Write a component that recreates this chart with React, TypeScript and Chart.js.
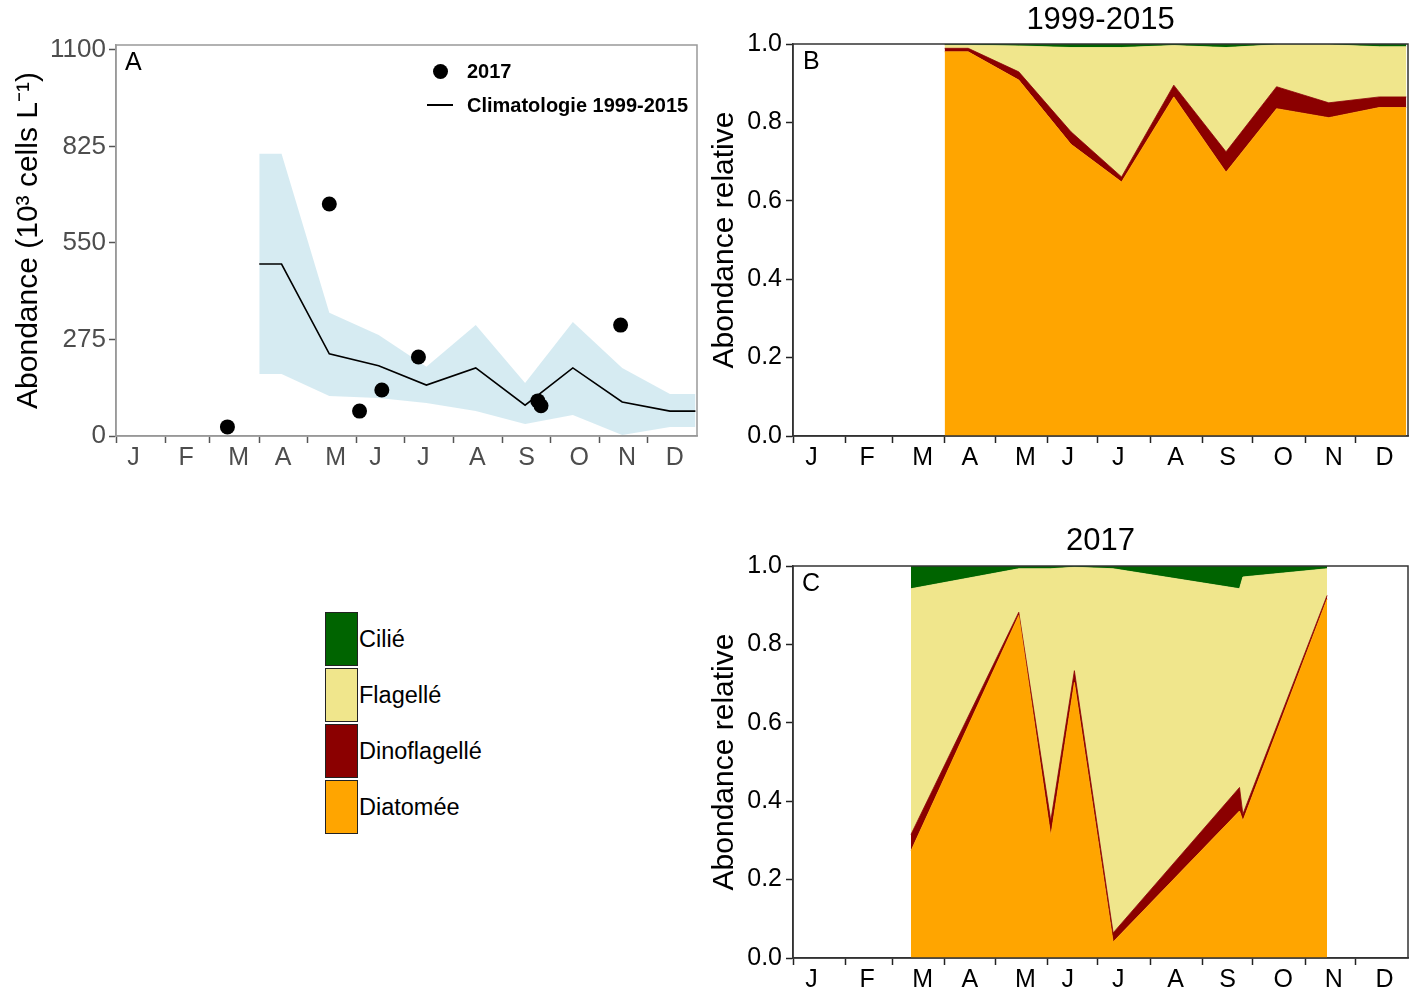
import React, { useEffect, useRef } from 'react';
import { Chart, registerables } from 'chart.js';
Chart.register(...registerables);

const FONT = "'Liberation Sans', Arial, Helvetica, sans-serif";

// x axis: day of year
const monthTickDays = [1, 32, 60, 91, 121, 152, 182, 213, 244, 274, 305, 335];
const monthLabelDays = [12, 45, 78, 106, 139, 164, 194, 228, 259, 292, 322, 352];
const monthLabels = ['J', 'F', 'M', 'A', 'M', 'J', 'J', 'A', 'S', 'O', 'N', 'D'];

// Panel A: climatology 1999-2015 (10^3 cells/L)
const climDays = [91, 105, 135, 166, 196, 227, 258, 288, 319, 349, 365];
const climMean = [490, 490, 234, 200, 145, 194, 88, 194, 97, 71, 71];
const climUpper = [804, 804, 351, 288, 197, 316, 151, 325, 194, 120, 120];
const climLower = [177, 177, 114, 108, 94, 71, 34, 60, 3, 26, 26];

// Panel A: 2017 observations
const obsDays = [71, 135, 154, 168, 191, 266, 268, 318];
const obsAbund = [26, 661, 71, 131, 225, 100, 86, 316];

const abundTicks = [0, 275, 550, 825, 1100];
const relTicks = [0, 0.2, 0.4, 0.6, 0.8, 1.0];

const groupNames = ['Diatomée', 'Dinoflagellé', 'Flagellé', 'Cilié'];
const groupColors = ['#FFA500', '#8B0000', '#F0E68C', '#006400'];

// Panel B: relative abundance 1999-2015 (at climDays)
const climDiatom = [0.980, 0.980, 0.908, 0.744, 0.648, 0.865, 0.673, 0.835, 0.812, 0.838, 0.838];
const climDino = [0.009, 0.009, 0.021, 0.032, 0.013, 0.030, 0.052, 0.056, 0.038, 0.027, 0.027];
const climFlag = [0.008, 0.008, 0.066, 0.215, 0.330, 0.101, 0.266, 0.107, 0.148, 0.128, 0.128];
const climCilie = [0.003, 0.003, 0.005, 0.009, 0.009, 0.004, 0.009, 0.002, 0.002, 0.007, 0.007];

// Panel C: relative abundance 2017 (at obsDays)
const obsDiatom = [0.273, 0.874, 0.311, 0.703, 0.041, 0.375, 0.350, 0.916];
const obsDino = [0.042, 0.008, 0.039, 0.030, 0.023, 0.060, 0.017, 0.009];
const obsFlag = [0.627, 0.111, 0.643, 0.264, 0.929, 0.507, 0.605, 0.068];
const obsCilie = [0.058, 0.007, 0.007, 0.003, 0.007, 0.058, 0.028, 0.007];

const pts = (xs: number[], ys: number[]) => xs.map((x, i) => ({ x, y: ys[i] }));

function monthAxis(labelColor: string, tickColor: string, borderColor: string, height: number) {
  const labelMap = new Map<number, string>(monthLabelDays.map((d, i) => [d, monthLabels[i]]));
  const tickSet = new Set(monthTickDays);
  return {
    type: 'linear',
    min: 1,
    max: 366,
    afterBuildTicks: (axis: any) => {
      axis.ticks = [...monthTickDays, ...monthLabelDays].sort((a, b) => a - b).map((v) => ({ value: v }));
    },
    afterFit: (axis: any) => {
      axis.height = height;
    },
    grid: {
      drawOnChartArea: false,
      drawTicks: true,
      tickLength: 7,
      tickWidth: 1.5,
      tickColor: (ctx: any) => (ctx.tick && tickSet.has(ctx.tick.value) ? tickColor : 'rgba(0,0,0,0)'),
    },
    border: { display: true, color: borderColor, width: 1.5 },
    ticks: {
      autoSkip: false,
      maxRotation: 0,
      minRotation: 0,
      padding: 0,
      color: labelColor,
      font: { family: FONT, size: 25 },
      callback: (v: any) => labelMap.get(Number(v)) ?? '',
    },
  };
}

function boxPlugin(color: string, width: number) {
  return {
    id: 'panelBox',
    afterDraw(chart: any) {
      const { ctx, chartArea } = chart;
      const { left, top, right, bottom } = chartArea;
      ctx.save();
      ctx.strokeStyle = color;
      ctx.lineWidth = width;
      ctx.strokeRect(left, top, right - left, bottom - top);
      ctx.restore();
    },
  };
}

function configA(): any {
  return {
    type: 'line',
    data: {
      datasets: [
        {
          type: 'scatter',
          label: '2017',
          data: pts(obsDays, obsAbund),
          pointRadius: 7.5,
          pointBackgroundColor: '#000',
          pointBorderWidth: 0,
          showLine: false,
          order: 0,
        },
        {
          label: 'Climatologie 1999-2015',
          data: pts(climDays, climMean),
          borderColor: '#000',
          borderWidth: 1.6,
          pointRadius: 0,
          tension: 0,
          fill: false,
          order: 1,
        },
        {
          label: 'upper',
          data: pts(climDays, climUpper),
          borderColor: 'rgba(0,0,0,0)',
          borderWidth: 0,
          pointRadius: 0,
          tension: 0,
          fill: 3,
          backgroundColor: 'rgba(173,216,230,0.5)',
          order: 2,
        },
        {
          label: 'lower',
          data: pts(climDays, climLower),
          borderColor: 'rgba(0,0,0,0)',
          borderWidth: 0,
          pointRadius: 0,
          tension: 0,
          fill: false,
          order: 3,
        },
      ],
    },
    options: {
      responsive: false,
      animation: false,
      devicePixelRatio: 1,
      events: [],
      layout: { padding: { left: 0, right: 13, top: 45, bottom: 0 } },
      plugins: { legend: { display: false }, tooltip: { enabled: false } },
      scales: {
        x: monthAxis('#4D4D4D', '#555555', '#999999', 44),
        y: {
          type: 'linear',
          min: 0,
          max: 1114.2,
          afterBuildTicks: (axis: any) => {
            axis.ticks = abundTicks.map((v) => ({ value: v }));
          },
          afterFit: (axis: any) => {
            axis.width = 116;
          },
          grid: { drawOnChartArea: false, tickLength: 7, tickWidth: 1.5, tickColor: '#555555' },
          border: { display: true, color: '#999999', width: 1.5 },
          ticks: {
            color: '#4D4D4D',
            padding: 3,
            font: { family: FONT, size: 26 },
            callback: (v: any) => String(v),
          },
          title: {
            display: true,
            text: 'Abondance (10³ cells L⁻¹)',
            color: '#000',
            font: { family: FONT, size: 30 },
            padding: { top: 11, bottom: 0 },
          },
        },
      },
    },
    plugins: [boxPlugin('#999999', 1.5)],
  };
}

function configRel(days: number[], series: number[][], xHeight: number): any {
  return {
    type: 'line',
    data: {
      datasets: series.map((vals, i) => ({
        label: groupNames[i],
        data: pts(days, vals),
        borderColor: groupColors[i],
        borderWidth: 0.8,
        backgroundColor: groupColors[i],
        pointRadius: 0,
        tension: 0,
        fill: i === 0 ? 'origin' : '-1',
      })),
    },
    options: {
      responsive: false,
      animation: false,
      devicePixelRatio: 1,
      events: [],
      layout: { padding: { left: 0, right: 14, top: 44, bottom: 0 } },
      plugins: { legend: { display: false }, tooltip: { enabled: false } },
      scales: {
        x: monthAxis('#000', '#222222', '#333333', xHeight),
        y: {
          type: 'linear',
          stacked: true,
          min: 0,
          max: 1,
          afterBuildTicks: (axis: any) => {
            axis.ticks = relTicks.map((v) => ({ value: v }));
          },
          afterFit: (axis: any) => {
            axis.width = 93;
          },
          grid: { drawOnChartArea: false, tickLength: 7, tickWidth: 1.5, tickColor: '#222222' },
          border: { display: true, color: '#333333', width: 1.5 },
          ticks: {
            color: '#000',
            padding: 4,
            font: { family: FONT, size: 25 },
            callback: (v: any) => Number(v).toFixed(1),
          },
          title: {
            display: true,
            text: 'Abondance relative',
            color: '#000',
            font: { family: FONT, size: 30 },
            padding: { top: 7, bottom: 0 },
          },
        },
      },
    },
    plugins: [boxPlugin('#333333', 1.5)],
  };
}

function ChartCanvas(props: { make: () => any; left: number; top: number; width: number; height: number }) {
  const ref = useRef<HTMLCanvasElement | null>(null);
  useEffect(() => {
    const chart = new Chart(ref.current as HTMLCanvasElement, props.make());
    return () => chart.destroy();
  }, []);
  return (
    <canvas
      ref={ref}
      width={props.width}
      height={props.height}
      style={{ position: 'absolute', left: props.left, top: props.top, width: props.width, height: props.height, display: 'block' }}
    />
  );
}

const txt = (s: any): React.CSSProperties => ({
  position: 'absolute',
  fontFamily: FONT,
  lineHeight: 1,
  whiteSpace: 'nowrap',
  color: '#000',
  ...s,
});

export default function App() {
  const legendItems = [
    { name: groupNames[3], color: groupColors[3] },
    { name: groupNames[2], color: groupColors[2] },
    { name: groupNames[1], color: groupColors[1] },
    { name: groupNames[0], color: groupColors[0] },
  ];
  return (
    <div style={{ position: 'absolute', left: 0, top: 0, width: 1422, height: 993, overflow: 'hidden', background: '#fff' }}>
      <ChartCanvas make={configA} left={0} top={0} width={710} height={480} />
      <ChartCanvas
        make={() => configRel(climDays, [climDiatom, climDino, climFlag, climCilie], 44)}
        left={700}
        top={0}
        width={722}
        height={480}
      />
      <ChartCanvas
        make={() => configRel(obsDays, [obsDiatom, obsDino, obsFlag, obsCilie], 35)}
        left={700}
        top={522}
        width={722}
        height={471}
      />

      {/* panel letters */}
      <div style={txt({ left: 125, top: 49, fontSize: 25 })}>A</div>
      <div style={txt({ left: 803, top: 48, fontSize: 25 })}>B</div>
      <div style={txt({ left: 802, top: 570, fontSize: 25 })}>C</div>

      {/* titles */}
      <div style={txt({ left: 793, top: 3, width: 615, textAlign: 'center', fontSize: 31 })}>1999-2015</div>
      <div style={txt({ left: 793, top: 524, width: 615, textAlign: 'center', fontSize: 31 })}>2017</div>

      {/* legend panel A */}
      <div style={{ position: 'absolute', left: 432.5, top: 63.5, width: 15, height: 15, borderRadius: '50%', background: '#000' }} />
      <div style={txt({ left: 467, top: 61, fontSize: 20, fontWeight: 'bold' })}>2017</div>
      <div style={{ position: 'absolute', left: 427, top: 104, width: 26, height: 1.6, background: '#000' }} />
      <div style={txt({ left: 467, top: 95, fontSize: 20, fontWeight: 'bold' })}>Climatologie 1999-2015</div>

      {/* fill legend */}
      {legendItems.map((it, i) => (
        <React.Fragment key={it.name}>
          <div
            style={{
              position: 'absolute',
              left: 325,
              top: 612 + i * 56,
              width: 33,
              height: 54,
              background: it.color,
              border: '1.5px solid #222',
              boxSizing: 'border-box',
            }}
          />
          <div style={txt({ left: 359, top: 628 + i * 56, fontSize: 23.5 })}>{it.name}</div>
        </React.Fragment>
      ))}
    </div>
  );
}
